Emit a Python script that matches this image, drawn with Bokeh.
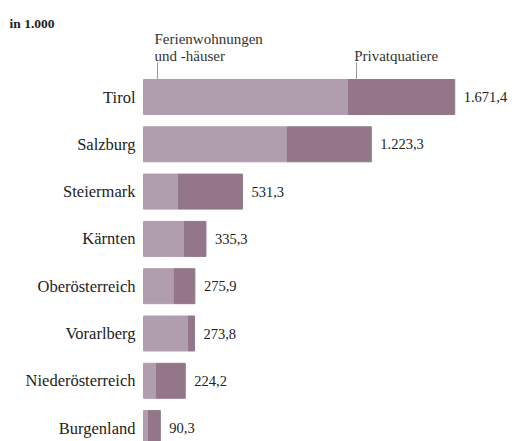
from bokeh.plotting import figure
from bokeh.models import ColumnDataSource, Range1d, Label
from bokeh.core.properties import value
from bokeh.embed import file_html
from bokeh.resources import INLINE

regions = ["Tirol", "Salzburg", "Steiermark", "Kärnten", "Oberösterreich",
           "Vorarlberg", "Niederösterreich", "Burgenland"]
totals = [1671.4, 1223.3, 531.3, 335.3, 275.9, 273.8, 224.2, 90.3]
ferien = [1101.0, 773.0, 188.0, 220.0, 166.0, 242.0, 70.0, 27.0]
privat = [570.4, 450.3, 343.3, 115.3, 109.9, 31.8, 154.2, 63.3]
total_labels = ["1.671,4", "1.223,3", "531,3", "335,3", "275,9", "273,8", "224,2", "90,3"]
series_names = ["Ferienwohnungen", "und -häuser", "Privatquatiere"]
unit_title = "in 1.000"

W, H = 512, 441
UPP = 5.37          # data units per pixel
X0 = 143            # pixel where value 0 sits
ROW = 47.3          # pixels per row
Y0 = 96.5           # pixel of first row centre

idx = list(range(len(regions)))
src = ColumnDataSource(dict(
    y=idx, region=regions, ferien=ferien,
    stack=[f + p for f, p in zip(ferien, privat)],
    total=totals, label=total_labels,
))

p = figure(width=W, height=H, output_backend="svg", toolbar_location=None,
           x_range=Range1d(-X0 * UPP, (W - X0) * UPP),
           y_range=Range1d((H - Y0) / ROW, -Y0 / ROW),
           min_border=0)
p.axis.visible = False
p.grid.visible = False
p.outline_line_color = None
p.background_fill_color = "white"

light = "#b09dae"
dark = "#937789"
bh = 35 / ROW
p.hbar(y="y", left=0, right="ferien", height=bh, color=light, source=src)
p.hbar(y="y", left="ferien", right="stack", height=bh, color=dark, source=src)

FONT_NAME = "Liberation Serif"
font = value(FONT_NAME)
p.text(x=0, y="y", text="region", source=src, x_offset=-8,
       text_align="right", text_baseline="middle", text_font=font,
       text_font_size="16.5px", text_color="#222222")
p.text(x="total", y="y", text="label", source=src, x_offset=9,
       text_align="left", text_baseline="middle", text_font=font,
       text_font_size="14.5px", text_color="#222222")

# legend annotations attached to the Tirol bar
def ypix(px):
    return (px - Y0) / ROW

fw_x = 11 * UPP
pv_x = ferien[0] + 8 * UPP
p.text(x=[fw_x, fw_x, pv_x - 2.4 * UPP], y=[ypix(38), ypix(55), ypix(55)],
       text=series_names, text_align="left", text_baseline="alphabetic",
       text_font=font, text_font_size="15px", text_color="#333333")
p.segment(x0=[fw_x + 3 * UPP, pv_x], y0=[ypix(62)] * 2,
          x1=[fw_x + 3 * UPP, pv_x], y1=[-bh / 2] * 2,
          line_color="#9a9a9a", line_width=1)

p.add_layout(Label(x=9, y=H - 23, x_units="screen", y_units="screen",
                   text=unit_title, text_font=FONT_NAME,
                   text_font_style="bold", text_font_size="13.5px",
                   text_color="#222222", text_baseline="alphabetic"))

open("out.html", "w").write(file_html(p, INLINE))
